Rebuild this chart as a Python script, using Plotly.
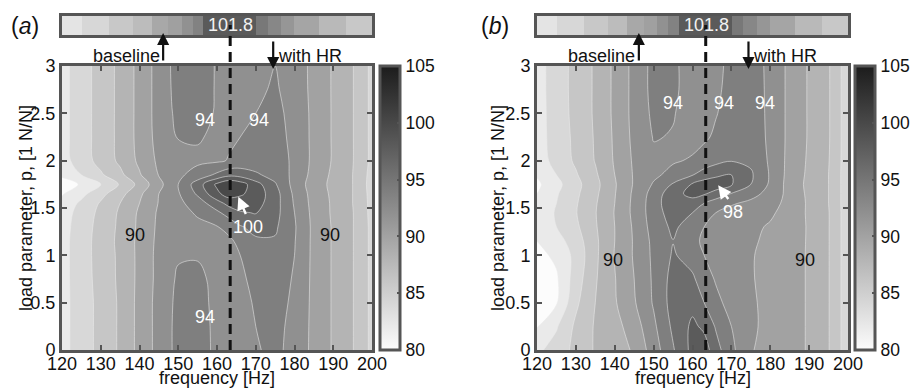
import plotly.graph_objects as go

# ---------------- data ----------------
FREQ = [120, 125, 130, 135, 140, 145, 150, 155, 160, 163, 166, 170, 175, 180, 185, 190, 195, 200]
LOAD_P = [0, 0.25, 0.5, 0.75, 1.0, 1.15, 1.3, 1.45, 1.55, 1.65, 1.75, 1.85, 2.0, 2.25, 2.5, 2.75, 3.0]

# panel (a): SPL [dB], one row per load parameter value
SPL_A = [
    [83.3, 85.0, 86.6, 88.3, 90.6, 92.7, 94.6, 95.0, 93.5, 93.0, 93.3, 93.8, 94.5, 93.3, 91.5, 89.8, 88.1, 85.5],
    [83.3, 85.0, 86.6, 88.3, 90.6, 92.7, 94.6, 94.9, 93.5, 93.0, 93.3, 94.0, 94.6, 93.4, 91.5, 89.8, 88.1, 85.5],
    [83.3, 85.0, 86.6, 88.3, 90.6, 92.7, 94.5, 94.8, 93.4, 93.0, 93.4, 94.2, 94.8, 93.6, 91.5, 89.8, 88.1, 85.5],
    [83.3, 85.1, 86.7, 88.4, 90.5, 92.6, 94.3, 94.6, 93.3, 93.1, 93.6, 94.6, 95.0, 93.8, 91.5, 89.8, 88.1, 85.5],
    [83.3, 85.1, 86.8, 88.4, 90.5, 92.6, 93.8, 93.8, 93.3, 93.3, 94.0, 95.2, 95.5, 94.0, 91.5, 89.8, 88.1, 85.5],
    [83.3, 85.1, 86.8, 88.5, 90.5, 92.5, 93.4, 93.5, 93.4, 93.6, 94.5, 95.7, 95.8, 94.1, 91.5, 89.8, 88.1, 85.5],
    [83.2, 85.0, 86.7, 88.4, 90.4, 92.4, 93.3, 93.6, 93.9, 94.6, 95.8, 96.6, 96.3, 94.2, 91.5, 89.8, 88.1, 85.5],
    [83.0, 84.8, 86.5, 88.3, 90.3, 92.3, 93.4, 94.2, 95.6, 96.8, 97.8, 98.1, 96.7, 94.0, 91.4, 89.7, 88.1, 85.4],
    [82.6, 84.4, 86.2, 88.0, 90.0, 92.1, 93.5, 95.0, 97.2, 98.6, 99.0, 98.8, 96.8, 93.8, 91.3, 89.7, 88.0, 85.4],
    [81.8, 83.4, 85.4, 87.3, 89.6, 92.0, 93.8, 96.3, 99.5, 101.0, 100.3, 99.2, 96.8, 93.6, 91.2, 89.6, 88.0, 85.3],
    [81.0, 82.2, 84.0, 86.2, 88.6, 91.4, 94.0, 97.0, 100.4, 101.8, 101.0, 98.8, 96.2, 93.3, 91.0, 89.5, 88.0, 85.2],
    [82.4, 84.0, 85.7, 87.5, 89.8, 92.1, 93.6, 94.8, 96.4, 97.4, 97.2, 96.3, 95.3, 93.5, 91.3, 89.6, 88.0, 85.3],
    [83.2, 85.0, 86.7, 88.4, 90.4, 92.4, 93.4, 93.6, 93.7, 94.1, 94.6, 94.9, 95.0, 93.6, 91.5, 89.8, 88.1, 85.5],
    [83.3, 85.1, 86.8, 88.5, 90.6, 92.7, 94.1, 94.2, 93.6, 93.7, 94.0, 94.3, 94.7, 93.5, 91.5, 89.8, 88.1, 85.5],
    [83.3, 85.1, 86.8, 88.5, 90.6, 92.8, 94.5, 94.8, 93.8, 93.6, 93.7, 94.0, 94.5, 93.4, 91.5, 89.8, 88.1, 85.5],
    [83.3, 85.1, 86.8, 88.5, 90.6, 92.8, 94.7, 95.1, 93.8, 93.5, 93.5, 93.7, 94.2, 93.3, 91.4, 89.8, 88.1, 85.5],
    [83.3, 85.1, 86.8, 88.5, 90.6, 92.8, 94.8, 95.2, 93.8, 93.5, 93.4, 93.5, 94.0, 93.2, 91.4, 89.8, 88.1, 85.5],
]

# panel (b)
SPL_B = [
    [83.6, 84.8, 86.6, 88.2, 88.9, 90.3, 93.0, 95.8, 98.6, 99.0, 96.8, 94.5, 92.1, 91.5, 90.8, 89.8, 88.1, 84.8],
    [81.9, 83.8, 86.4, 88.2, 89.3, 91.0, 93.6, 96.4, 98.4, 97.6, 95.8, 94.0, 92.3, 91.5, 90.8, 89.8, 88.1, 84.8],
    [80.8, 81.8, 85.6, 88.0, 89.8, 91.8, 94.2, 96.8, 97.4, 96.0, 94.6, 93.2, 92.2, 91.6, 90.8, 89.8, 88.1, 84.8],
    [80.7, 81.7, 85.0, 87.8, 89.9, 92.0, 94.3, 96.7, 96.3, 95.0, 93.8, 92.8, 92.1, 91.6, 90.8, 89.8, 88.1, 84.8],
    [81.4, 82.4, 84.6, 87.6, 90.1, 92.2, 94.4, 96.2, 95.2, 94.0, 93.2, 92.6, 92.1, 91.6, 90.8, 89.8, 88.1, 84.8],
    [82.0, 83.2, 85.0, 87.6, 90.0, 92.2, 94.5, 95.95, 94.6, 93.6, 93.0, 92.6, 92.2, 91.7, 90.9, 89.8, 88.1, 84.8],
    [82.6, 84.0, 85.6, 87.8, 90.0, 92.3, 94.8, 96.4, 95.0, 94.0, 93.3, 92.8, 92.4, 91.8, 91.0, 89.8, 88.1, 84.8],
    [82.6, 84.2, 85.9, 87.9, 90.1, 92.5, 95.0, 97.0, 96.0, 94.8, 94.0, 93.4, 93.0, 92.3, 91.2, 89.7, 88.1, 84.8],
    [82.3, 84.0, 85.8, 87.8, 90.0, 92.5, 95.0, 97.5, 97.2, 96.0, 95.0, 94.2, 93.6, 92.8, 91.3, 89.7, 88.0, 84.8],
    [82.0, 83.8, 85.6, 87.6, 89.9, 92.4, 94.8, 97.3, 98.6, 98.2, 97.2, 95.9, 94.6, 93.4, 91.3, 89.6, 88.0, 84.8],
    [81.6, 83.4, 85.4, 87.4, 89.8, 92.2, 94.2, 96.2, 98.2, 99.0, 99.2, 98.2, 96.0, 93.7, 91.2, 89.5, 88.0, 84.8],
    [82.2, 84.0, 85.8, 87.7, 90.0, 92.2, 93.6, 94.6, 95.9, 96.9, 97.6, 98.0, 96.3, 93.8, 91.3, 89.6, 88.0, 84.8],
    [82.8, 84.8, 86.3, 88.1, 90.2, 92.3, 93.6, 93.8, 94.2, 94.8, 95.4, 95.9, 95.6, 93.7, 91.4, 89.7, 88.1, 84.8],
    [83.0, 85.0, 86.4, 88.2, 90.3, 92.5, 94.1, 93.9, 93.4, 93.7, 94.3, 95.1, 95.2, 93.6, 91.5, 89.8, 88.2, 84.8],
    [83.0, 85.1, 86.5, 88.3, 90.4, 92.6, 94.4, 94.1, 93.3, 93.4, 93.9, 94.7, 95.0, 93.6, 91.5, 89.8, 88.2, 84.8],
    [83.0, 85.2, 86.5, 88.3, 90.4, 92.6, 94.6, 94.3, 93.3, 93.3, 93.7, 94.5, 94.9, 93.6, 91.5, 89.8, 88.2, 84.8],
    [83.0, 85.2, 86.5, 88.3, 90.4, 92.6, 94.6, 94.3, 93.3, 93.2, 93.6, 94.4, 94.8, 93.6, 91.5, 89.8, 88.2, 84.8],
]

# top strip: block edges [Hz] and block levels [dB]
STRIP_EDGES = [120, 125.1, 132.2, 138.2, 143.1, 147.4, 150.9, 153.7, 156.5, 170.1, 173.1, 176.5, 179.9, 186.4, 193.2, 200]
STRIP_SPL = [82.7, 84.1, 85.8, 87.1, 89.4, 90.3, 91.9, 93.6, 98.1, 94.7, 93.1, 91.4, 89.7, 87.5, 85.8]
PEAK_TEXT = "101.8"
PEAK_FREQ = 163.4
BASELINE_FREQ = [146.1, 146.2]
HR_FREQ = [174.5, 174.4]

X_TICKS = [120, 130, 140, 150, 160, 170, 180, 190, 200]
Y_TICKS = [0, 0.5, 1, 1.5, 2, 2.5, 3]
Y_TICK_TEXT = ["0", "0.5", "1", "1.5", "2", "2.5", "3"]
CBAR_TICKS = [80, 85, 90, 95, 100, 105]

# contour labels: (text, freq, p, colour)
LABELS_A = [("94", 156.9, 2.43, "white"), ("94", 170.9, 2.43, "white"),
            ("90", 138.8, 1.21, "#111"), ("90", 189.2, 1.21, "#111"),
            ("94", 156.9, 0.35, "white"), ("100", 168.0, 1.30, "white")]
LABELS_B = [("94", 155.1, 2.61, "white"), ("94", 168.1, 2.61, "white"), ("94", 178.6, 2.61, "white"),
            ("90", 139.6, 0.95, "#111"), ("90", 188.9, 0.95, "#111"), ("98", 170.5, 1.46, "white")]
ARROW_A = (165.5, 1.62, 167.6, 1.42)
ARROW_B = (166.6, 1.74, 169.5, 1.58)

# ---------------- styling ----------------
FONT = "Liberation Sans, Arial, sans-serif"
W, H = 911, 388
AX = "#555555"

# MATLAB-like band colouring (band coloured by its lower level)
CONTOUR_SCALE = [[0, "rgb(255,255,255)"], [0.0769, "rgb(252,252,252)"], [1, "rgb(37,37,37)"]]
BAR_SCALE = [[0, "rgb(252,252,252)"], [1, "rgb(28,28,28)"]]

PLOT_Y = [38 / H, 322 / H]
STRIP_Y = [(H - 35) / H, (H - 16) / H]
PANELS = [
    dict(xd=[62 / W, 372 / W], cb_x=380 / W, cb_th=20, z=SPL_A, labels=LABELS_A, arrow=ARROW_A,
         tag="a", tagx=25, ytx=26, ax="", sx="3"),
    dict(xd=[537 / W, 848 / W], cb_x=855 / W, cb_th=20, z=SPL_B, labels=LABELS_B, arrow=ARROW_B,
         tag="b", tagx=495, ytx=498, ax="2", sx="4"),
]

fig = go.Figure()
annotations = []
shapes = []


def txt_ann(**kw):
    kw.setdefault("showarrow", False)
    kw.setdefault("xanchor", "center")
    kw.setdefault("yanchor", "middle")
    return kw


for i, pn in enumerate(PANELS):
    xa = "x" + pn["ax"]
    ya = "y" + pn["ax"]
    xs = "x" + pn["sx"]
    ys = "y" + pn["sx"]

    fig.add_trace(go.Contour(
        x=FREQ, y=LOAD_P, z=pn["z"], xaxis=xa, yaxis=ya,
        colorscale=CONTOUR_SCALE, showscale=False, autocontour=False,
        contours=dict(start=80, end=104, size=2, coloring="fill", showlines=True),
        line=dict(color="rgba(235,235,235,0.8)", width=0.7, smoothing=1.0),
        hoverinfo="skip"))

    # continuous colour bar
    fig.add_trace(go.Scatter(
        x=[1000], y=[1000], xaxis=xa, yaxis=ya, mode="markers",
        marker=dict(color=[90], cmin=80, cmax=105, colorscale=BAR_SCALE, showscale=True,
                    colorbar=dict(x=pn["cb_x"], xanchor="left", xpad=0, ypad=0,
                                  y=sum(PLOT_Y) / 2, yanchor="middle", len=PLOT_Y[1] - PLOT_Y[0],
                                  lenmode="fraction", thickness=pn["cb_th"], thicknessmode="pixels",
                                  outlinewidth=3, outlinecolor=AX, tickvals=CBAR_TICKS,
                                  ticks="inside", ticklen=4, tickwidth=2, tickcolor=AX,
                                  tickfont=dict(size=17.5, color="#111", family=FONT))),
        hoverinfo="skip", showlegend=False))

    # top strip
    fig.add_trace(go.Heatmap(
        x=STRIP_EDGES, y=[0, 1], z=[STRIP_SPL], xaxis=xs, yaxis=ys,
        colorscale=BAR_SCALE, zmin=80, zmax=105, showscale=False, hoverinfo="skip"))

    common = dict(showline=True, linewidth=3, linecolor=AX, showgrid=False, zeroline=False)
    fig.update_layout(**{
        ("xaxis" + pn["ax"]): dict(domain=pn["xd"], range=[120, 200], anchor=ya, tickvals=X_TICKS,
                                     ticks="inside", ticklen=5, tickwidth=2, tickcolor=AX, mirror="ticks",
                                     ticklabelstandoff=-5,
                                     tickfont=dict(size=18, color="#111", family=FONT), **common),
        ("yaxis" + pn["ax"]): dict(domain=PLOT_Y, range=[0, 3], anchor=xa, tickvals=Y_TICKS,
                                     ticktext=Y_TICK_TEXT, ticks="inside", ticklen=5, tickwidth=2,
                                     tickcolor=AX, mirror="ticks",
                                     tickfont=dict(size=18, color="#111", family=FONT), **common),
        ("xaxis" + pn["sx"]): dict(domain=pn["xd"], range=[120, 200], anchor=ys, showticklabels=False,
                                     ticks="", mirror=True, **common),
        ("yaxis" + pn["sx"]): dict(domain=STRIP_Y, range=[0, 1], anchor=xs, showticklabels=False,
                                     ticks="", mirror=True, **common),
    })

    # dashed peak line
    shapes.append(dict(type="line", xref=xa, yref="paper", x0=PEAK_FREQ, x1=PEAK_FREQ,
                       y0=PLOT_Y[0], y1=(H - 25) / H, layer="above",
                       line=dict(color="#111", width=3, dash="10px,6px")))

    # peak value in the strip
    annotations.append(txt_ann(text=PEAK_TEXT, xref=xa, yref="paper", x=PEAK_FREQ + 0.1,
                               y=(H - 25.5) / H, font=dict(size=18, color="#f2f2f2", family=FONT)))

    # baseline / with HR
    annotations.append(dict(text="", xref=xa, yref="paper", x=BASELINE_FREQ[i], y=(H - 33) / H,
                            ax=0, ay=29, showarrow=True, arrowhead=2, arrowsize=1.1, arrowwidth=2.2,
                            arrowcolor="#111"))
    annotations.append(txt_ann(text="baseline", xref=xa, yref="paper", x=BASELINE_FREQ[i] - 0.4,
                               y=(H - 56) / H, xanchor="right",
                               font=dict(size=18, color="#111", family=FONT)))
    annotations.append(dict(text="", xref=xa, yref="paper", x=HR_FREQ[i], y=(H - 69) / H,
                            ax=0, ay=-29, showarrow=True, arrowhead=2, arrowsize=1.1, arrowwidth=2.2,
                            arrowcolor="#111"))
    annotations.append(txt_ann(text="with HR", xref=xa, yref="paper", x=HR_FREQ[i] + 0.6,
                               y=(H - 56) / H, xanchor="left",
                               font=dict(size=18, color="#111", family=FONT)))

    # contour labels
    for txt, fx, py, col in pn["labels"]:
        annotations.append(txt_ann(text=txt, xref=xa, yref=ya, x=fx, y=py,
                                   font=dict(size=18, color=col, family=FONT)))
    hx, hy, tx, ty = pn["arrow"]
    annotations.append(dict(text="", xref=xa, yref=ya, x=hx, y=hy, axref=xa, ayref=ya, ax=tx, ay=ty,
                            showarrow=True, arrowhead=2, arrowsize=1.1, arrowwidth=2.4,
                            arrowcolor="white"))

    # axis titles
    xc = (pn["xd"][0] + pn["xd"][1]) / 2
    annotations.append(txt_ann(text="frequency [Hz]", xref="paper", yref="paper", x=xc, y=(H - 378) / H,
                               font=dict(size=18, color="#111", family=FONT)))
    annotations.append(txt_ann(text="load parameter, p, [1 N/N]", xref="paper", yref="paper",
                               x=pn["ytx"] / W, y=sum(PLOT_Y) / 2, textangle=-90,
                               font=dict(size=18, color="#111", family=FONT)))
    # panel tag
    annotations.append(txt_ann(text="(<i>%s</i>)" % pn["tag"], xref="paper", yref="paper",
                               x=pn["tagx"] / W, y=(H - 26.5) / H,
                               font=dict(size=23, color="#111", family=FONT)))

fig.update_layout(width=W, height=H, margin=dict(l=0, r=0, t=0, b=0, autoexpand=False),
                  paper_bgcolor="white", plot_bgcolor="white", showlegend=False,
                  annotations=annotations, shapes=shapes, font=dict(family=FONT))

fig.write_html("out.html")
